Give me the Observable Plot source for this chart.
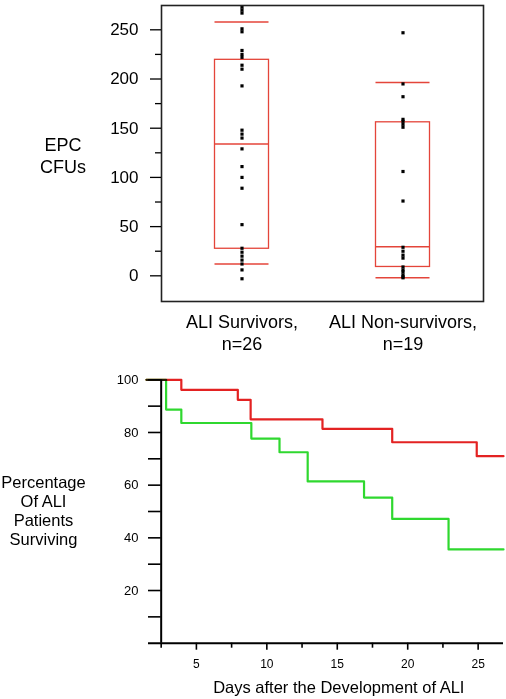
<!DOCTYPE html>
<html>
<head>
<meta charset="utf-8">
<script src="https://cdn.jsdelivr.net/npm/d3@7"></script>
<script src="https://cdn.jsdelivr.net/npm/@observablehq/plot@0.6"></script>
<style>
  html, body { margin: 0; padding: 0; background: #fff; }
  #wrap { width: 506px; }
  #wrap svg { display: block; }
</style>
</head>
<body>
<div id="wrap"></div>
<script>
// ---------- Top chart data: EPC CFUs ----------
const groups = ["ALI Survivors,\nn=26", "ALI Non-survivors,\nn=19"];
const survivorsCFU = [273, 270, 267, 251, 248, 229, 225, 222, 214, 210, 193, 148, 144, 140, 129, 111, 100, 89, 52, 28, 24, 20, 16, 12, 6, -3];
const nonSurvivorsCFU = [247, 195, 182, 159, 157, 154, 151, 106, 76, 29, 25, 21, 18, 9, 6, 4, 1, -1, -2];
const whiskerLow = [12, -2];
const quartile1 = [27.5, 9];
const medians = [134, 29.5];
const quartile3 = [219.5, 156];
const whiskerHigh = [258, 196.5];
const cfuTicks = [0, 50, 100, 150, 200, 250];
const cfuMinorTicks = [25, 75, 125, 175, 225];
const cfuDomain = [-26.1, 274.7];

// ---------- Bottom chart data: survival ----------
const nonSurvLowDays = [1.45, 3.93, 7.94, 8.85, 13.95, 18.9, 24.9, 26.8];
const nonSurvLowPct = [100, 96.2, 92.4, 85.0, 81.4, 76.3, 71.0, 71.0];
const highDays = [1.45, 2.85, 3.93, 8.9, 10.9, 12.9, 16.9, 18.9, 22.9, 26.8];
const highPct = [100, 88.7, 83.6, 77.7, 72.5, 61.4, 55.3, 47.2, 35.6, 35.6];
const dayDomain = [1.6, 26.8];
const yAxisDay = 2.5;
const dayTicks = [5, 10, 15, 20, 25];
const dayMinorTicks = [2.5, 7.5, 12.5, 17.5, 22.5];
const pctLabelTicks = [20, 40, 60, 80, 100];
const pctTickMarks = [10, 20, 30, 40, 50, 60, 70, 80, 90, 100];

const FONT = "'Liberation Sans', Arial, Helvetica, sans-serif";
const boxRed = "#e4453a";
const lineRed = "#e32222";
const lineGreen = "#2fd82f";

// ----- build top chart -----
const boxData = groups.map((g, i) => ({group: g, q1: quartile1[i], q3: quartile3[i]}));
const lineStats = groups.flatMap((g, i) => [
  {group: g, v: whiskerLow[i]},
  {group: g, v: medians[i]},
  {group: g, v: whiskerHigh[i]}
]);
const points = [
  ...survivorsCFU.map(v => ({group: groups[0], v})),
  ...nonSurvivorsCFU.map(v => ({group: groups[1], v}))
];

const topChart = Plot.plot({
  width: 506,
  height: 356,
  marginLeft: 161,
  marginRight: 23,
  marginTop: 5,
  marginBottom: 55,
  style: {fontFamily: FONT, fontSize: "17px", color: "#000", background: "#fff"},
  x: {type: "band", domain: groups, padding: 0},
  y: {domain: cfuDomain},
  marks: [
    Plot.barY(boxData, {x: "group", y1: "q1", y2: "q3", fill: "none", stroke: boxRed, strokeWidth: 1.3, insetLeft: 53.5, insetRight: 53.5}),
    Plot.tickY(lineStats, {x: "group", y: "v", stroke: boxRed, strokeWidth: 1.5, insetLeft: 53.5, insetRight: 53.5}),
    Plot.dot(points, {x: "group", y: "v", symbol: "square", r: 1.8, fill: "#000", stroke: "none"}),
    Plot.frame({stroke: "#222", strokeWidth: 1.6}),
    Plot.axisY({ticks: cfuTicks, tickSize: 11, tickPadding: 12, fontSize: 17, label: null, strokeWidth: 1.3}),
    Plot.axisY({ticks: cfuMinorTicks, tickSize: 6, tickFormat: () => "", label: null, strokeWidth: 1.3}),
    Plot.axisX({tickSize: 0, tickPadding: 12, fontSize: 18, lineHeight: 1.17, label: null}),
    Plot.text(["EPC\nCFUs"], {text: d => d, frameAnchor: "left", textAnchor: "middle", lineAnchor: "middle", dx: -98.5, dy: 1.5, fontSize: 18, lineHeight: 1.22})
  ]
});

// ----- build bottom chart -----
const nonSurvLowData = nonSurvLowDays.map((d, i) => ({day: d, pct: nonSurvLowPct[i]}));
const highData = highDays.map((d, i) => ({day: d, pct: highPct[i]}));

const bottomChart = Plot.plot({
  width: 506,
  height: 343,
  marginLeft: 148,
  marginRight: 3,
  marginTop: 23.3,
  marginBottom: 56.3,
  style: {fontFamily: FONT, fontSize: "13px", color: "#000", background: "#fff"},
  x: {domain: dayDomain},
  y: {domain: [0, 100]},
  marks: [
    Plot.ruleY(pctTickMarks, {y: d => d, x1: dayDomain[0], x2: yAxisDay, stroke: "#000", strokeWidth: 1.6}),
    Plot.axisY({ticks: pctLabelTicks, tickSize: 0, tickPadding: 10, fontSize: 13, label: null}),
    Plot.axisX({ticks: dayTicks, tickSize: 7, tickPadding: 9, fontSize: 12, label: null, strokeWidth: 1.6}),
    Plot.axisX({ticks: dayMinorTicks, tickSize: 5, tickFormat: () => "", label: null, strokeWidth: 1.6}),
    Plot.ruleX([yAxisDay], {y1: 0, y2: 100, stroke: "#000", strokeWidth: 2}),
    Plot.ruleY([0], {stroke: "#000", strokeWidth: 2}),
    Plot.line(highData, {x: "day", y: "pct", curve: "step-after", stroke: lineGreen, strokeWidth: 2.2, mixBlendMode: "multiply"}),
    Plot.line(nonSurvLowData, {x: "day", y: "pct", curve: "step-after", stroke: lineRed, strokeWidth: 2.2, mixBlendMode: "multiply"}),
    Plot.text(["Percentage\nOf ALI\nPatients\nSurviving"], {text: d => d, frameAnchor: "left", textAnchor: "middle", lineAnchor: "middle", dx: -105, dy: -1, fontSize: 16.5, lineHeight: 1.16}),
    Plot.text(["Days after the Development of ALI"], {text: d => d, frameAnchor: "bottom", textAnchor: "middle", lineAnchor: "middle", dx: 12.8, dy: 44.8, fontSize: 16.5})
  ]
});

const wrap = document.getElementById("wrap");
wrap.appendChild(topChart);
wrap.appendChild(bottomChart);
</script>
</body>
</html>
